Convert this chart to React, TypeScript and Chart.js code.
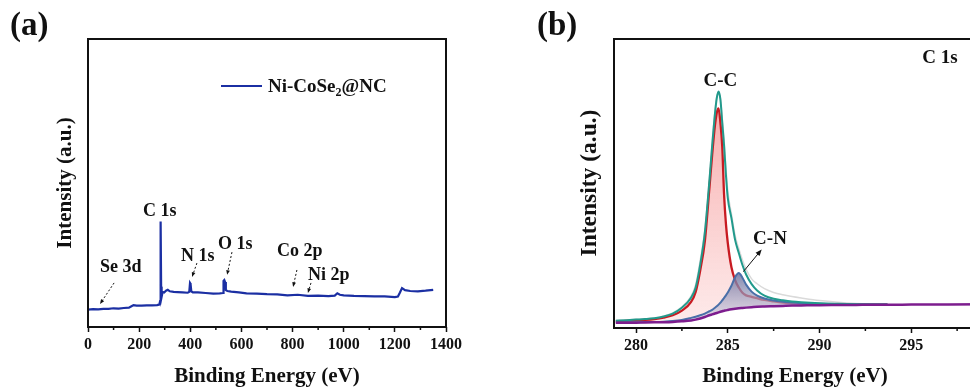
import { useEffect, useRef } from "react";
import { Chart, registerables } from "chart.js";

Chart.register(...registerables);

const FONT = '"Liberation Serif", "Times New Roman", serif';

// ---------- Panel (a): XPS survey ----------
const surveyEnergy = [0, 20, 40, 60, 80, 100, 120, 140, 160, 170, 178, 190, 210, 230, 250, 270, 279, 282, 284, 286, 288, 292, 298, 305, 312, 320, 335, 350, 370, 390, 396, 399, 401, 404, 410, 430, 460, 490, 515, 528, 530, 533, 536, 539, 545, 560, 590, 620, 660, 700, 740, 780, 820, 860, 900, 940, 965, 975, 985, 1000, 1040, 1080, 1120, 1160, 1200, 1212, 1220, 1228, 1240, 1260, 1290, 1320, 1350];
const surveyIntensity = [6.0, 6.2, 6.1, 6.3, 6.3, 6.5, 6.4, 6.6, 6.7, 7.2, 7.6, 7.4, 7.4, 7.5, 7.5, 7.6, 7.8, 9.0, 36.6, 14.0, 10.5, 12.2, 12.0, 12.6, 12.9, 12.4, 12.2, 12.1, 12.0, 11.9, 12.2, 15.3, 15.0, 12.4, 12.0, 12.0, 11.8, 11.6, 11.7, 11.8, 16.0, 16.3, 15.6, 12.8, 12.5, 12.3, 12.0, 11.7, 11.6, 11.4, 11.3, 11.0, 11.2, 10.8, 10.9, 10.7, 10.9, 11.7, 11.2, 11.0, 10.8, 10.7, 10.6, 10.6, 10.4, 10.6, 12.0, 13.5, 12.8, 12.5, 12.4, 12.6, 12.9];
const surveyMajorTicks = [0, 200, 400, 600, 800, 1000, 1200, 1400];
const surveyMinorTicks = [100, 300, 500, 700, 900, 1100, 1300];
const surveyPeakNames = ["Se 3d", "C 1s", "N 1s", "O 1s", "Co 2p", "Ni 2p"];
// label anchor (eV, intensity) and arrow (from -> to) per peak; null = no arrow
const surveyLabelEnergy = [47, 215, 364, 508, 739, 860];
const surveyLabelIntensity = [19.1, 38.5, 22.9, 27.1, 24.7, 16.3];
const surveyArrowFrom = [[102, 15.3], null, [426, 22.2], [563, 26.0], [817, 19.8], [872, 15.3]];
const surveyArrowTo = [[47, 8.0], null, [407, 17.4], [544, 18.1], [802, 13.9], [860, 11.8]];
const surveySeriesName = ["Ni-CoSe", "2", "@NC"];

// ---------- Panel (b): C 1s high resolution ----------
const c1sEnergy = [278.9, 279.5, 280, 280.5, 281, 281.5, 282, 282.5, 283, 283.25, 283.5, 283.75, 284, 284.15, 284.3, 284.4, 284.5, 284.6, 284.7, 284.8, 284.9, 285, 285.2, 285.4, 285.6, 285.8, 286, 286.3, 286.6, 287, 287.5, 288, 288.5, 289, 290, 291, 292, 293, 293.7];
const c1sRaw = [2.6, 2.8, 3.0, 3.2, 3.5, 4.1, 5.2, 7.3, 11, 15, 23.5, 34, 52, 64.5, 75, 80, 81.5, 79.5, 72.5, 65, 55.5, 47.5, 39.5, 32, 27.5, 23.5, 20.3, 17, 15.3, 13.6, 12.3, 11.5, 10.9, 10.4, 9.5, 8.9, 8.5, 8.3, 8.2];
const c1sEnvelope = [2.5, 2.7, 2.9, 3.1, 3.4, 4.0, 5.0, 7.0, 10.5, 14, 22, 33, 51, 63, 74, 79.5, 81.8, 79, 71, 63, 53, 45, 38, 30.5, 26, 21.8, 18.5, 15.2, 13.0, 11.2, 10.1, 9.6, 9.2, 8.95, 8.6, 8.4, 8.25, 8.15, 8.1];
const c1sCC = [2.3, 2.5, 2.6, 2.8, 3.1, 3.6, 4.4, 6.0, 9.0, 12.5, 20, 30, 48.5, 60, 70, 74.5, 76, 71, 62.7, 46, 36, 29.5, 21, 16.6, 14, 12.2, 11.3, 10.8, 10.3, 9.7, 9.2, 8.8, 8.6, 8.4, 8.2, 8.1, 8.05, 8.05, 8.05];
const c1sCN = [1.9, 1.95, 2.0, 2.05, 2.1, 2.2, 2.4, 2.8, 3.5, 3.9, 4.4, 5.0, 5.8, 6.3, 7.0, 7.5, 8.1, 8.8, 9.6, 10.4, 11.3, 12.3, 14.6, 17.6, 19.0, 17.4, 15.0, 12.6, 11.2, 10.2, 9.5, 9.1, 8.8, 8.6, 8.35, 8.2, 8.15, 8.1, 8.1];
const baselineEnergy = [278.9, 279.5, 280, 280.5, 281, 281.5, 282, 282.5, 283, 283.25, 283.5, 283.75, 284, 284.15, 284.3, 284.4, 284.5, 284.6, 284.7, 284.8, 284.9, 285, 285.2, 285.4, 285.6, 285.8, 286, 286.3, 286.6, 287, 287.5, 288, 288.5, 289, 290, 291, 292, 293, 293.7, 295, 297, 300];
const baselineValues = [1.8, 1.8, 1.85, 1.9, 1.95, 2.0, 2.1, 2.3, 2.6, 2.9, 3.3, 3.8, 4.4, 4.7, 5.0, 5.2, 5.4, 5.6, 5.8, 6.0, 6.1, 6.25, 6.5, 6.7, 6.85, 6.95, 7.05, 7.2, 7.35, 7.45, 7.55, 7.65, 7.75, 7.8, 7.9, 7.95, 8.0, 8.05, 8.05, 8.1, 8.15, 8.2];
const c1sMajorTicks = [280, 285, 290, 295, 300];
const c1sMinorTicks = [282.5, 287.5, 292.5, 297.5];
const c1sPeakNames = ["C-C", "C-N"];
const c1sLabelEnergy = [284.6, 287.3];
const c1sLabelIntensity = [83.7, 29.1];
const c1sArrowFrom = [285.85, 19.5];
const c1sArrowTo = [286.85, 27.2];
const c1sTitle = "C 1s";
const c1sTitlePos = [295.6, 91.7];

const xTitle = "Binding Energy (eV)";
const yTitle = "Intensity (a.u.)";

const toXY = (xs: number[], ys: number[]) => xs.map((x, i) => ({ x, y: ys[i] }));

function drawArrow(ctx: CanvasRenderingContext2D, x1: number, y1: number, x2: number, y2: number, dashed: boolean, head: number) {
  ctx.save();
  ctx.strokeStyle = "#111";
  ctx.fillStyle = "#111";
  ctx.lineWidth = 1;
  const ang = Math.atan2(y2 - y1, x2 - x1);
  const hx = x2 - head * 0.8 * Math.cos(ang);
  const hy = y2 - head * 0.8 * Math.sin(ang);
  ctx.setLineDash(dashed ? [2, 2] : []);
  ctx.beginPath();
  ctx.moveTo(x1, y1);
  ctx.lineTo(hx, hy);
  ctx.stroke();
  ctx.setLineDash([]);
  ctx.beginPath();
  ctx.moveTo(x2, y2);
  ctx.lineTo(x2 - head * Math.cos(ang - 0.38), y2 - head * Math.sin(ang - 0.38));
  ctx.lineTo(x2 - head * Math.cos(ang + 0.38), y2 - head * Math.sin(ang + 0.38));
  ctx.closePath();
  ctx.fill();
  ctx.restore();
}

function drawFrameAndMinor(chart: any, minor: number[]) {
  const { ctx, chartArea } = chart;
  const xs = chart.scales.x;
  ctx.save();
  ctx.strokeStyle = "#111";
  ctx.lineWidth = 2;
  ctx.strokeRect(chartArea.left, chartArea.top, chartArea.right - chartArea.left, chartArea.bottom - chartArea.top);
  ctx.lineWidth = 1.5;
  for (const v of minor) {
    const px = xs.getPixelForValue(v);
    ctx.beginPath();
    ctx.moveTo(px, chartArea.bottom);
    ctx.lineTo(px, chartArea.bottom + 3);
    ctx.stroke();
  }
  ctx.restore();
}

function drawTitles(ctx: CanvasRenderingContext2D, panel: string, panelX: number, xTitleX: number, yTitleX: number, yTitleSize: number) {
  ctx.save();
  ctx.fillStyle = "#111";
  ctx.font = `bold 33px ${FONT}`;
  ctx.textAlign = "left";
  ctx.textBaseline = "alphabetic";
  ctx.fillText(panel, panelX, 35);
  ctx.font = `bold 21px ${FONT}`;
  ctx.textAlign = "center";
  ctx.fillText(xTitle, xTitleX, 382);
  ctx.translate(yTitleX, 183);
  ctx.rotate(-Math.PI / 2);
  ctx.textBaseline = "middle";
  ctx.font = `bold ${yTitleSize}px ${FONT}`;
  ctx.fillText(yTitle, 0, 0);
  ctx.restore();
}

const surveyPlugin = {
  id: "surveyAnnotations",
  afterDraw(chart: any) {
    const { ctx } = chart;
    const xs = chart.scales.x;
    const ys = chart.scales.y;
    drawFrameAndMinor(chart, surveyMinorTicks);
    ctx.save();
    ctx.fillStyle = "#111";
    ctx.font = `bold 18px ${FONT}`;
    ctx.textAlign = "left";
    ctx.textBaseline = "alphabetic";
    surveyPeakNames.forEach((name, i) => {
      ctx.fillText(name, xs.getPixelForValue(surveyLabelEnergy[i]), ys.getPixelForValue(surveyLabelIntensity[i]));
      const f = surveyArrowFrom[i];
      const t = surveyArrowTo[i];
      if (f && t) {
        drawArrow(ctx, xs.getPixelForValue(f[0]), ys.getPixelForValue(f[1]), xs.getPixelForValue(t[0]), ys.getPixelForValue(t[1]), true, 5);
      }
    });
    // legend
    const { left, top } = chart.chartArea;
    ctx.strokeStyle = "#1b2fa3";
    ctx.lineWidth = 2;
    ctx.beginPath();
    ctx.moveTo(left + 133, top + 47);
    ctx.lineTo(left + 174, top + 47);
    ctx.stroke();
    ctx.font = `bold 19px ${FONT}`;
    let tx = left + 180;
    const by = top + 53;
    ctx.fillText(surveySeriesName[0], tx, by);
    tx += ctx.measureText(surveySeriesName[0]).width;
    ctx.font = `bold 12px ${FONT}`;
    ctx.fillText(surveySeriesName[1], tx, by + 4);
    tx += ctx.measureText(surveySeriesName[1]).width;
    ctx.font = `bold 19px ${FONT}`;
    ctx.fillText(surveySeriesName[2], tx, by);
    ctx.restore();
    drawTitles(ctx, "(a)", 10, 267, 66, 21);
  },
};

const c1sPlugin = {
  id: "c1sAnnotations",
  afterDraw(chart: any) {
    const { ctx } = chart;
    const xs = chart.scales.x;
    const ys = chart.scales.y;
    drawFrameAndMinor(chart, c1sMinorTicks);
    ctx.save();
    ctx.fillStyle = "#111";
    ctx.font = `bold 19px ${FONT}`;
    ctx.textAlign = "center";
    ctx.textBaseline = "alphabetic";
    c1sPeakNames.forEach((name, i) => {
      ctx.fillText(name, xs.getPixelForValue(c1sLabelEnergy[i]), ys.getPixelForValue(c1sLabelIntensity[i]));
    });
    ctx.textAlign = "left";
    ctx.fillText(c1sTitle, xs.getPixelForValue(c1sTitlePos[0]), ys.getPixelForValue(c1sTitlePos[1]));
    drawArrow(ctx, xs.getPixelForValue(c1sArrowFrom[0]), ys.getPixelForValue(c1sArrowFrom[1]), xs.getPixelForValue(c1sArrowTo[0]), ys.getPixelForValue(c1sArrowTo[1]), false, 7);
    ctx.restore();
    drawTitles(ctx, "(b)", 52, 310, 105, 23.5);
  },
};

const tickFont = { family: FONT, size: 16, weight: "bold" as const };

function gradientFill(top: string, bottom: string, y0: number, y1: number) {
  return (context: any) => {
    const chart = context.chart;
    if (!chart.chartArea) return bottom;
    const g = chart.ctx.createLinearGradient(0, y0, 0, y1);
    g.addColorStop(0, top);
    g.addColorStop(1, bottom);
    return g;
  };
}

const plainTick = (v: any) => String(v);

export default function App() {
  const refA = useRef<HTMLCanvasElement>(null);
  const refB = useRef<HTMLCanvasElement>(null);

  useEffect(() => {
    const chartA = new Chart(refA.current as HTMLCanvasElement, {
      type: "line",
      data: {
        datasets: [
          {
            data: toXY(surveyEnergy, surveyIntensity),
            borderColor: "#1b2fa3",
            borderWidth: 2.2,
            pointRadius: 0,
            tension: 0,
            fill: false,
          },
        ],
      },
      options: {
        responsive: false,
        animation: false,
        devicePixelRatio: 1,
        layout: { padding: { left: 88, right: 39, top: 39, bottom: 0 } },
        plugins: { legend: { display: false }, tooltip: { enabled: false } },
        scales: {
          x: {
            type: "linear",
            min: 0,
            max: 1400,
            afterBuildTicks: (s: any) => {
              s.ticks = surveyMajorTicks.map((v) => ({ value: v }));
            },
            afterFit: (s: any) => {
              s.height = 62;
            },
            grid: { drawOnChartArea: false, drawTicks: true, tickLength: 5, tickWidth: 1.5, tickColor: "#111" },
            border: { display: false },
            ticks: { font: tickFont, color: "#111", padding: 3, maxRotation: 0, autoSkip: false, callback: plainTick },
          },
          y: { display: false, min: 0, max: 100 },
        },
      },
      plugins: [surveyPlugin],
    } as any);

    const chartB = new Chart(refB.current as HTMLCanvasElement, {
      type: "line",
      data: {
        datasets: [
          {
            label: "Background",
            data: toXY(baselineEnergy, baselineValues),
            borderColor: "#7d1d8e",
            borderWidth: 2.5,
            pointRadius: 0,
            cubicInterpolationMode: "monotone",
            fill: false,
          },
          {
            label: "Envelope",
            data: toXY(c1sEnergy, c1sEnvelope),
            borderColor: "#229a8c",
            borderWidth: 2,
            pointRadius: 0,
            cubicInterpolationMode: "monotone",
            fill: false,
          },
          {
            label: "C-N",
            data: toXY(c1sEnergy, c1sCN),
            borderColor: "#4a6fa8",
            borderWidth: 2,
            pointRadius: 0,
            cubicInterpolationMode: "monotone",
            fill: 0,
            backgroundColor: gradientFill("rgba(100,105,150,0.85)", "rgba(205,205,228,0.55)", 270, 320),
          },
          {
            label: "C-C",
            data: toXY(c1sEnergy, c1sCC),
            borderColor: "#c81b22",
            borderWidth: 2.3,
            pointRadius: 0,
            cubicInterpolationMode: "monotone",
            fill: 0,
            backgroundColor: gradientFill("rgba(244,140,140,0.7)", "rgba(252,215,215,0.55)", 110, 320),
          },
          {
            label: "Raw",
            data: toXY(c1sEnergy, c1sRaw),
            borderColor: "#dadada",
            borderWidth: 1.5,
            pointRadius: 0,
            cubicInterpolationMode: "monotone",
            fill: false,
          },
        ],
      },
      options: {
        responsive: false,
        animation: false,
        devicePixelRatio: 1,
        layout: { padding: { left: 129, right: 42, top: 39, bottom: 0 } },
        plugins: { legend: { display: false }, tooltip: { enabled: false } },
        scales: {
          x: {
            type: "linear",
            min: 278.8,
            max: 300,
            afterBuildTicks: (s: any) => {
              s.ticks = c1sMajorTicks.map((v) => ({ value: v }));
            },
            afterFit: (s: any) => {
              s.height = 61;
            },
            grid: { drawOnChartArea: false, drawTicks: true, tickLength: 5, tickWidth: 1.5, tickColor: "#111" },
            border: { display: false },
            ticks: { font: tickFont, color: "#111", padding: 3, maxRotation: 0, autoSkip: false, callback: plainTick },
          },
          y: { display: false, min: 0, max: 100 },
        },
      },
      plugins: [c1sPlugin],
    } as any);

    return () => {
      chartA.destroy();
      chartB.destroy();
    };
  }, []);

  return (
    <div style={{ position: "fixed", left: 0, top: 0, width: 970, height: 389, overflow: "hidden", background: "#fff" }}>
      <canvas ref={refA} width={485} height={389} style={{ position: "absolute", left: 0, top: 0, width: 485, height: 389 }} />
      <canvas ref={refB} width={560} height={389} style={{ position: "absolute", left: 485, top: 0, width: 560, height: 389 }} />
    </div>
  );
}
